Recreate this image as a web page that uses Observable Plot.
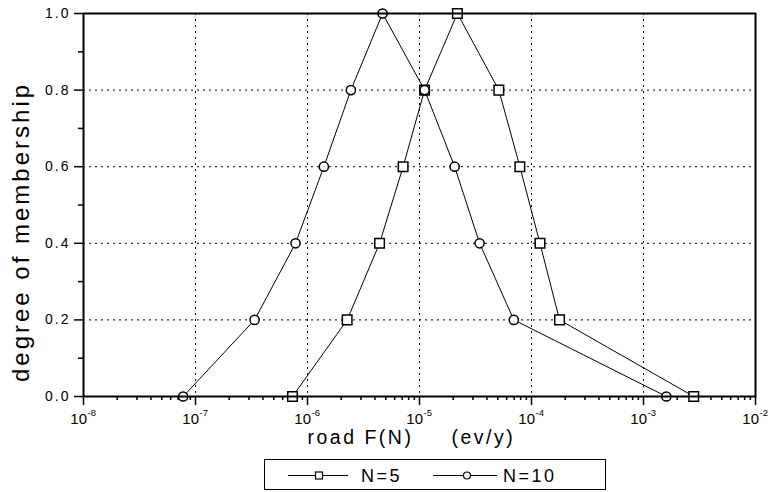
<!DOCTYPE html>
<html>
<head>
<meta charset="utf-8">
<script src="https://cdn.jsdelivr.net/npm/d3@7"></script>
<script src="https://cdn.jsdelivr.net/npm/@observablehq/plot@0.6"></script>
<style>
  html, body { margin: 0; padding: 0; background: #fff; }
  body { width: 774px; height: 492px; position: relative; font-family: "Liberation Sans", Arial, sans-serif; }
  #chart svg { display: block; }
  #legend { position: absolute; left: 264px; top: 459px; width: 340px; height: 29px;
            border: 1.5px solid #000; box-sizing: content-box; }
  #legend svg { position: absolute; left: 0; top: 0; }
</style>
</head>
<body>
<div id="chart"></div>
<div id="legend"></div>
<script>
// ---- data ----
const membership = [0, 0.2, 0.4, 0.6, 0.8, 1.0, 0.8, 0.6, 0.4, 0.2, 0];
const fN5  = [7.35e-7, 2.26e-6, 4.40e-6, 7.14e-6, 1.11e-5, 2.18e-5, 5.11e-5, 7.87e-5, 1.19e-4, 1.78e-4, 2.81e-3];
const fN10 = [7.76e-8, 3.37e-7, 7.82e-7, 1.40e-6, 2.44e-6, 4.68e-6, 1.11e-5, 2.06e-5, 3.44e-5, 6.95e-5, 1.60e-3];
const seriesNames = ["N=5", "N=10"];
const xExponents = [-8, -7, -6, -5, -4, -3, -2];
const yTicks = [0, 0.2, 0.4, 0.6, 0.8, 1.0];
const yMinor = [0.1, 0.3, 0.5, 0.7, 0.9];
const xTitle = ["road F(N)", "(ev/y)"];
const yTitle = "degree of membership";

// ---- derived tables ----
const rowsN5 = fN5.map((v, i) => ({x: v, y: membership[i]}));
const rowsN10 = fN10.map((v, i) => ({x: v, y: membership[i]}));
const decades = xExponents.map(e => Math.pow(10, e));
const innerDecades = decades.slice(1, -1);
const xMinor = [];
for (const d of decades.slice(0, -1)) for (let k = 2; k <= 9; k++) xMinor.push(d * k);
const font = "Liberation Sans, Arial, sans-serif";

const chart = Plot.plot({
  width: 774,
  height: 457,
  marginTop: 13,
  marginBottom: 61,
  marginLeft: 83,
  marginRight: 19,
  style: {fontFamily: font, background: "#fff", color: "#000"},
  x: {type: "log", domain: [1e-8, 1e-2]},
  y: {domain: [0, 1]},
  marks: [
    // grid
    Plot.ruleX(innerDecades, {stroke: "#000", strokeWidth: 1, strokeDasharray: "2,4"}),
    Plot.ruleY([0.2, 0.4, 0.6, 0.8], {stroke: "#000", strokeWidth: 1, strokeDasharray: "2,4"}),
    // axes
    Plot.axisY(yTicks, {tickSize: 9, tickPadding: 4, tickFormat: d3.format(".1f"), fontSize: 14, label: null, strokeWidth: 1.5}),
    Plot.axisY(yMinor, {tickSize: 5, tickFormat: () => "", label: null, strokeWidth: 1.5}),
    Plot.axisX(decades, {tickSize: 9, tickFormat: () => "", label: null, strokeWidth: 1.5}),
    Plot.axisX(xMinor, {tickSize: 4, tickFormat: () => "", label: null, strokeWidth: 1.5}),
    // x tick labels 10^e
    Plot.text(xExponents, {x: e => Math.pow(10, e), text: () => "10", frameAnchor: "bottom",
      textAnchor: "end", dx: 3.5, dy: 27, fontSize: 15}),
    Plot.text(xExponents, {x: e => Math.pow(10, e), text: e => String(e), frameAnchor: "bottom",
      textAnchor: "start", dx: 4, dy: 19, fontSize: 9.5}),
    // axis titles
    Plot.text([yTitle], {frameAnchor: "left", rotate: -90, dx: -62, dy: 27, fontSize: 24, textAnchor: "middle"}),
    Plot.text([xTitle[0]], {frameAnchor: "bottom", dx: -112, dy: 47, textAnchor: "start", fontSize: 19.5}),
    Plot.text([xTitle[1]], {frameAnchor: "bottom", dx: 32, dy: 47, textAnchor: "start", fontSize: 19.5}),
    // series
    Plot.line(rowsN5, {x: "x", y: "y", stroke: "#000", strokeWidth: 1}),
    Plot.line(rowsN10, {x: "x", y: "y", stroke: "#000", strokeWidth: 1}),
    Plot.dot(rowsN5, {x: "x", y: "y", symbol: "square", r: 5.4, fill: "#fff", stroke: "#000", strokeWidth: 1.5}),
    Plot.dot(rowsN10, {x: "x", y: "y", symbol: "circle", r: 4.6, fill: "#fff", stroke: "#000", strokeWidth: 1.5}),
    Plot.frame({stroke: "#000", strokeWidth: 2})
  ]
});
document.getElementById("chart").appendChild(chart);

// letter spacing to mimic the wide lettering of the original
d3.select(chart).selectAll("text").each(function () {
  const t = this.textContent;
  if (t === yTitle) this.setAttribute("letter-spacing", "3px");
  else if (xTitle.includes(t)) this.setAttribute("letter-spacing", "2.5px");
});
d3.select(chart).selectAll('g[aria-label="y-axis tick label"] text').attr("letter-spacing", "2px");

// ---- legend ----
const ns = "http://www.w3.org/2000/svg";
const lg = document.createElementNS(ns, "svg");
lg.setAttribute("width", 340); lg.setAttribute("height", 29);
const items = [
  {name: seriesNames[0], x0: 23, x1: 83, mx: 54, sym: "square", tx: 96},
  {name: seriesNames[1], x0: 168, x1: 232, mx: 202, sym: "circle", tx: 238}
];
for (const it of items) {
  const ln = document.createElementNS(ns, "line");
  ln.setAttribute("x1", it.x0); ln.setAttribute("x2", it.x1);
  ln.setAttribute("y1", 15.5); ln.setAttribute("y2", 15.5);
  ln.setAttribute("stroke", "#000"); ln.setAttribute("stroke-width", 1);
  lg.appendChild(ln);
  let m;
  if (it.sym === "square") {
    m = document.createElementNS(ns, "rect");
    m.setAttribute("x", it.mx - 3.5); m.setAttribute("y", 12); m.setAttribute("width", 7); m.setAttribute("height", 7);
  } else {
    m = document.createElementNS(ns, "circle");
    m.setAttribute("cx", it.mx); m.setAttribute("cy", 15.5); m.setAttribute("r", 3.5);
  }
  m.setAttribute("fill", "#fff"); m.setAttribute("stroke", "#000"); m.setAttribute("stroke-width", 1.2);
  lg.appendChild(m);
  const t = document.createElementNS(ns, "text");
  t.setAttribute("x", it.tx); t.setAttribute("y", 22);
  t.setAttribute("font-size", 18); t.setAttribute("font-family", font);
  t.setAttribute("letter-spacing", "2.5px");
  t.textContent = it.name;
  lg.appendChild(t);
}
document.getElementById("legend").appendChild(lg);
</script>
</body>
</html>
